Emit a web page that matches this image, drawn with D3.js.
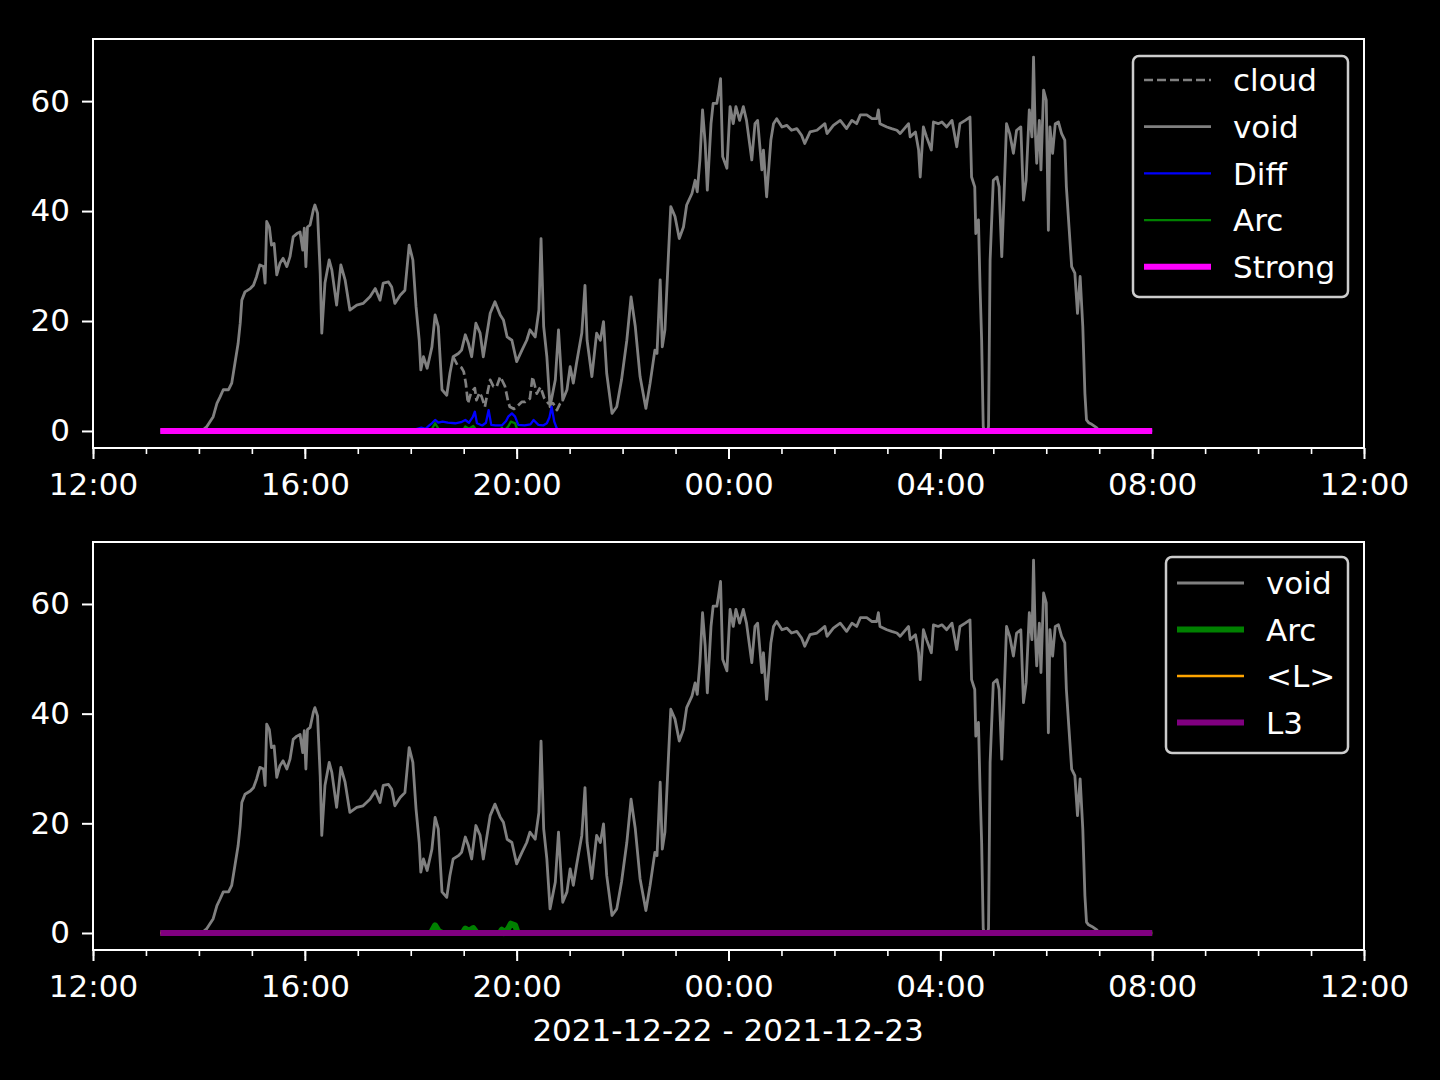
<!DOCTYPE html>
<html><head><meta charset="utf-8">
<script src="https://cdn.jsdelivr.net/npm/d3@7"></script>
<style>html,body{margin:0;padding:0;background:#000;}svg{display:block;}</style>
</head><body>
<svg id="c" width="1440" height="1080"></svg>
<script>
// Times are hours since 2021-12-22 12:00
const xTickLabels = ["12:00","16:00","20:00","00:00","04:00","08:00","12:00"];
const yTickValues = [0, 20, 40, 60];

const voidSeries = [[1.27,0],[2.05,0],[2.15,0.8],[2.27,2.6],[2.34,5.0],[2.40,6.2],[2.46,7.5],[2.56,7.5],[2.62,8.7],[2.68,12.3],[2.74,15.9],[2.78,19.6],[2.81,23.8],[2.87,25.3],[2.97,25.9],[3.03,26.5],[3.09,28.1],[3.15,30.2],[3.22,29.9],[3.25,26.9],[3.28,38.1],[3.33,37.1],[3.37,33.8],[3.42,34.1],[3.47,28.4],[3.53,30.5],[3.59,31.4],[3.66,29.9],[3.72,31.7],[3.78,35.3],[3.85,35.9],[3.91,36.2],[3.96,32.9],[3.99,36.9],[4.02,29.9],[4.05,37.1],[4.10,37.5],[4.16,40.2],[4.19,41.1],[4.24,39.6],[4.29,28.7],[4.32,17.8],[4.38,26.9],[4.46,31.1],[4.51,29.3],[4.60,22.9],[4.68,30.2],[4.76,27.5],[4.85,22.0],[4.98,22.9],[5.10,23.2],[5.23,24.4],[5.33,25.9],[5.42,23.8],[5.48,26.9],[5.58,27.1],[5.64,26.2],[5.70,23.2],[5.80,24.7],[5.89,25.6],[5.97,33.8],[6.04,31.1],[6.10,22.6],[6.16,16.5],[6.19,11.1],[6.24,13.5],[6.31,11.4],[6.40,15.3],[6.46,21.1],[6.52,19.0],[6.59,7.5],[6.68,6.5],[6.74,10.5],[6.80,13.5],[6.90,14.1],[6.96,14.7],[7.03,17.5],[7.09,15.9],[7.15,13.5],[7.23,19.6],[7.31,17.8],[7.37,13.5],[7.50,21.4],[7.59,23.5],[7.69,21.1],[7.75,20.2],[7.82,17.1],[7.91,16.5],[8.00,12.6],[8.10,14.7],[8.19,16.5],[8.25,18.4],[8.35,17.1],[8.42,22.0],[8.46,35.0],[8.51,19.0],[8.57,13.5],[8.63,4.4],[8.73,9.3],[8.79,18.4],[8.87,5.6],[8.95,7.5],[9.01,11.7],[9.07,8.7],[9.13,12.3],[9.23,17.8],[9.29,26.5],[9.33,16.5],[9.42,9.9],[9.51,17.8],[9.58,16.5],[9.64,19.9],[9.70,10.5],[9.80,3.2],[9.89,4.4],[9.98,9.3],[10.08,16.5],[10.16,24.4],[10.24,19.0],[10.33,9.9],[10.44,4.1],[10.52,8.7],[10.61,14.7],[10.65,14.1],[10.71,27.5],[10.75,15.3],[10.80,18.4],[10.87,32.9],[10.91,40.8],[10.99,39.0],[11.07,35.0],[11.15,37.1],[11.21,41.1],[11.31,43.2],[11.37,45.6],[11.41,43.5],[11.46,49.3],[11.51,58.4],[11.56,52.3],[11.60,43.8],[11.67,55.9],[11.71,59.6],[11.78,59.6],[11.81,61.4],[11.85,64.1],[11.89,49.9],[11.97,47.8],[12.03,59.0],[12.09,55.9],[12.14,59.0],[12.21,56.5],[12.28,59.0],[12.34,56.5],[12.44,49.3],[12.50,55.9],[12.55,56.5],[12.63,47.5],[12.66,51.1],[12.72,42.6],[12.80,52.9],[12.85,55.9],[12.91,56.8],[13.01,55.3],[13.10,55.6],[13.19,54.7],[13.29,55.0],[13.38,53.8],[13.44,52.3],[13.54,54.4],[13.67,54.7],[13.82,55.9],[13.86,54.1],[13.98,55.6],[14.11,56.5],[14.23,55.0],[14.33,56.5],[14.42,55.9],[14.49,57.5],[14.61,57.5],[14.71,56.8],[14.80,56.8],[14.83,58.4],[14.86,55.9],[14.99,55.3],[15.08,55.0],[15.18,54.7],[15.24,54.1],[15.40,55.9],[15.43,53.5],[15.53,54.4],[15.59,51.1],[15.62,46.2],[15.68,55.3],[15.74,53.5],[15.83,51.1],[15.87,56.2],[15.96,55.9],[16.03,56.2],[16.12,55.3],[16.22,56.5],[16.31,51.7],[16.37,55.9],[16.47,56.5],[16.56,57.1],[16.59,46.2],[16.65,44.4],[16.67,35.9],[16.72,38.4],[16.75,26.2],[16.78,16.5],[16.81,0.8],[16.83,0],[16.89,0],[16.91,0.8],[16.94,31.1],[17.00,45.6],[17.07,46.2],[17.11,44.4],[17.16,31.7],[17.20,42.0],[17.25,55.9],[17.31,54.1],[17.38,50.5],[17.44,54.7],[17.52,55.3],[17.57,42.0],[17.62,45.6],[17.68,58.4],[17.73,53.5],[17.76,68.0],[17.79,55.3],[17.82,48.7],[17.87,56.5],[17.90,47.5],[17.95,62.0],[18.00,60.2],[18.04,36.5],[18.07,55.3],[18.12,50.5],[18.17,55.9],[18.23,56.2],[18.29,54.1],[18.35,52.9],[18.38,44.4],[18.43,37.1],[18.48,29.9],[18.54,28.7],[18.59,21.4],[18.64,28.1],[18.69,19.0],[18.73,6.8],[18.76,2.0],[18.80,1.5],[18.86,1.2],[18.95,0.6],[19.0,0],[20.0,0]];

const cloudSeries = [[6.80,13.5],[6.88,12.0],[6.96,11.5],[7.00,10.8],[7.04,8.7],[7.08,5.0],[7.14,7.0],[7.21,7.8],[7.24,5.6],[7.30,7.0],[7.34,6.2],[7.40,4.4],[7.45,7.0],[7.50,9.3],[7.56,8.1],[7.62,8.0],[7.69,9.9],[7.78,8.1],[7.84,5.3],[7.87,4.4],[7.95,4.0],[8.00,4.4],[8.10,5.3],[8.16,5.3],[8.25,5.9],[8.30,9.9],[8.38,6.8],[8.45,8.0],[8.52,6.0],[8.60,5.0],[8.69,5.0],[8.76,3.8],[8.82,5.0],[8.87,5.6]];

const diffSeries = [[1.27,0],[6.05,0],[6.12,0.4],[6.20,0.6],[6.28,0.4],[6.35,1.0],[6.40,1.4],[6.46,2.0],[6.52,1.5],[6.60,1.7],[6.70,1.5],[6.84,1.4],[6.95,1.6],[7.03,2.0],[7.10,1.5],[7.17,2.5],[7.21,3.5],[7.25,1.4],[7.35,1.0],[7.42,1.5],[7.47,3.8],[7.52,1.1],[7.60,1.0],[7.72,1.0],[7.80,1.8],[7.84,2.6],[7.91,3.2],[7.97,2.6],[8.03,1.1],[8.15,1.0],[8.26,1.2],[8.32,2.0],[8.41,1.1],[8.50,1.0],[8.57,1.4],[8.62,2.5],[8.66,4.4],[8.71,1.7],[8.76,0.4],[8.80,0],[20.0,0]];

const arcSeries = [[1.27,0],[6.38,0],[6.46,1.4],[6.53,0.3],[6.60,0],[6.98,0],[7.03,0.8],[7.10,0.4],[7.18,0.9],[7.25,0],[7.68,0],[7.72,0.6],[7.76,0],[7.84,0.8],[7.89,1.7],[7.97,1.4],[8.02,0],[20.0,0]];

const strongSeries = [[1.27,0],[20.0,0]];
const lMeanSeries = [[1.27,0],[20.0,0]];
const l3Series = [[1.27,0],[20.0,0]];

const base = new Date(2021, 11, 22, 12, 0);
const toDate = h => new Date(base.getTime() + h * 3600000);

const svg = d3.select("#c");
svg.append("rect").attr("width",1440).attr("height",1080).attr("fill","#000");

const FONT = "DejaVu Sans, sans-serif";
const FS = 31;
const x = d3.scaleTime().domain([toDate(0), toDate(24)]).range([93, 1364]);

function panel(top, bottom, series, legendItems, legendBox) {
  const y = d3.scaleLinear().domain([-3.1, 71.3]).range([bottom, top]);
  const g = svg.append("g");
  const clipId = "clip" + top;
  g.append("clipPath").attr("id", clipId).append("rect")
    .attr("x", 93).attr("y", top).attr("width", 1364-93).attr("height", bottom-top);
  const line = d3.line().x(d => x(toDate(d[0]))).y(d => y(d[1]));
  const plot = g.append("g").attr("clip-path", `url(#${clipId})`);
  series.forEach(s => {
    plot.append("path").attr("d", line(s.data)).attr("fill","none")
      .attr("stroke", s.color).attr("stroke-width", s.w)
      .attr("stroke-dasharray", s.dash || null)
      .attr("stroke-linejoin","round").attr("stroke-linecap","butt");
  });
  // spines
  g.append("rect").attr("x",93).attr("y",top).attr("width",1364-93).attr("height",bottom-top)
    .attr("fill","none").attr("stroke","#fff").attr("stroke-width",2);
  // x axis
  const xa = g.append("g").attr("transform",`translate(0,${bottom})`)
    .call(d3.axisBottom(x).ticks(d3.timeHour.every(4)).tickSize(11).tickPadding(14)
      .tickFormat((d,i) => xTickLabels[i]));
  const xm = g.append("g").attr("transform",`translate(0,${bottom})`)
    .call(d3.axisBottom(x).ticks(d3.timeHour.every(1)).tickSize(6).tickFormat(""));
  const ya = g.append("g").attr("transform",`translate(93,0)`)
    .call(d3.axisLeft(y).tickValues(yTickValues).tickSize(11).tickPadding(12));
  [xa, xm, ya].forEach(a => {
    a.select(".domain").remove();
    a.selectAll("line").attr("stroke","#fff").attr("stroke-width",2);
    a.selectAll("text").attr("fill","#fff").attr("font-family",FONT).attr("font-size",FS);
  });
  xm.selectAll("line").attr("stroke-width",1.6);
  // legend
  const lg = g.append("g");
  lg.append("rect").attr("x",legendBox.x).attr("y",legendBox.y).attr("width",legendBox.w)
    .attr("height",legendBox.h).attr("rx",6).attr("fill","rgba(0,0,0,0.8)")
    .attr("stroke","#cccccc").attr("stroke-width",2.5);
  legendItems.forEach((it, i) => {
    const cy = legendBox.y + legendBox.first + i * legendBox.step;
    lg.append("line").attr("x1", legendBox.x + 11).attr("x2", legendBox.x + 78)
      .attr("y1", cy).attr("y2", cy).attr("stroke", it.color).attr("stroke-width", it.w)
      .attr("stroke-dasharray", it.dash || null);
    lg.append("text").attr("x", legendBox.x + 100).attr("y", cy).attr("dy","0.36em")
      .attr("fill","#fff").attr("font-family",FONT).attr("font-size",FS).text(it.label);
  });
}

const top1 = [
  {label:"cloud", data: cloudSeries, color:"#808080", w:2.7, dash:"9,4"},
  {label:"void", data: voidSeries, color:"#808080", w:2.8},
  {label:"Diff", data: diffSeries, color:"#0000ff", w:2.3},
  {label:"Arc", data: arcSeries, color:"#008000", w:2.3},
  {label:"Strong", data: strongSeries, color:"#ff00ff", w:6}
];
panel(39, 448, top1, top1, {x:1133, y:56, w:215, h:241, first:24, step:46.7});

const bot = [
  {label:"void", data: voidSeries, color:"#808080", w:2.8},
  {label:"Arc", data: arcSeries, color:"#008000", w:6},
  {label:"<L>", data: lMeanSeries, color:"#ffa500", w:2.5},
  {label:"L3", data: l3Series, color:"#800080", w:6}
];
panel(542, 950, bot, bot, {x:1166, y:557, w:182, h:196, first:26, step:46.5});

svg.append("text").attr("x",728).attr("y",1030).attr("dy","0.36em").attr("text-anchor","middle")
  .attr("fill","#fff").attr("font-family",FONT).attr("font-size",FS).text("2021-12-22 - 2021-12-23");
</script>
</body></html>
